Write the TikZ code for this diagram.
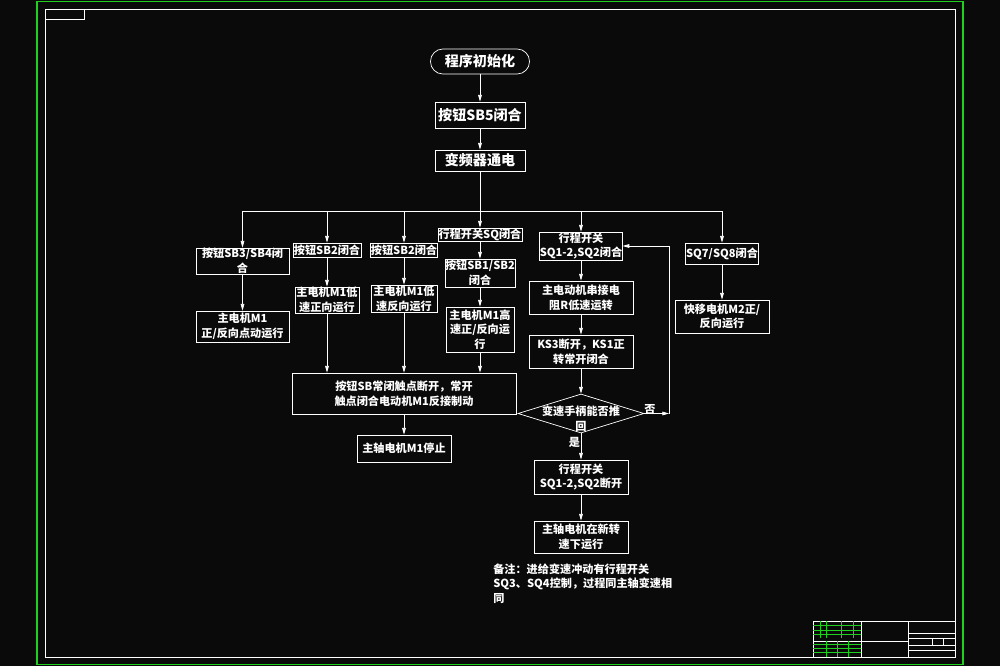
\documentclass[tikz,border=0pt]{standalone}
\usepackage{fontspec}
\newfontfamily\cjk{Noto Sans CJK SC}
\usetikzlibrary{arrows.meta, shapes.geometric}
\definecolor{cadbg}{HTML}{0A0A0A}
\definecolor{cadgreen}{HTML}{1FD01F}

\begin{document}
\begin{tikzpicture}[x=0.3mm, y=-0.3mm, line width=0.6pt,
  >={Triangle[length=2mm, width=1.1mm]},
  txt/.style={text=white, font=\cjk\bfseries\fontsize{9.5}{12.5}\selectfont, align=center, inner sep=0pt},
  bigtxt/.style={txt, font=\cjk\bfseries\fontsize{12}{14}\selectfont},
  box/.style={txt, draw=white, rectangle},
  bigbox/.style={bigtxt, draw=white, rectangle},
  link/.style={white, ->},
  wire/.style={white}]

% Background and sheet frames
\fill[cadbg] (0,0) rectangle (1000,666);
\draw[cadgreen, line width=1.1pt] (37,1.5) rectangle (963,664.5);
\draw[white, line width=0.8pt] (45,9) rectangle (955,657);
\draw[white, line width=0.8pt] (45,9) rectangle (84,19);

% ============================================================
% Top of the chart
% ============================================================
\node[bigbox, rounded corners=3.7mm, minimum width=29.7mm, minimum height=7.5mm] (init) at (480,61.5) {程序初始化};
\node[bigbox, minimum width=27mm, minimum height=7.8mm] (sbfive) at (480,115) {按钮SB5闭合};
\node[bigbox, minimum width=27mm, minimum height=6.3mm] (power) at (480,160.5) {变频器通电};

\draw[link] (init) -- (sbfive);
\draw[link] (sbfive) -- (power);

% Bus under the inverter box
\coordinate (bus) at (480,211);
\coordinate (busA) at (242.5,211);
\coordinate (busB) at (327,211);
\coordinate (busC) at (404,211);
\coordinate (busD) at (480,211);
\coordinate (busE) at (581,211);
\coordinate (busF) at (722,211);
\draw[wire] (power) -- (bus);
\draw[wire] (busA) -- (busF);

% ============================================================
% Spindle motor branches
% ============================================================
\node[box, minimum width=27.9mm, minimum height=7.8mm] (jogbtn) at (242.5,261) {按钮SB3/SB4闭\\合};
\node[box, minimum width=27.9mm, minimum height=9.3mm] (jogrun) at (242.5,326.5) {主电机M1\\正/反向点动运行};
\draw[link] (busA) -- (jogbtn);
\draw[link] (jogbtn) -- (jogrun);

\node[box, minimum width=20.4mm, minimum height=4.2mm] (fwdbtn) at (327,250) {按钮SB2闭合};
\node[box, minimum width=19.2mm, minimum height=7.8mm] (fwdrun) at (327,300) {主电机M1低\\速正向运行};
\draw[link] (busB) -- (fwdbtn);
\draw[link] (fwdbtn) -- (fwdrun);

\node[box, minimum width=20.1mm, minimum height=4.2mm] (revbtn) at (404,250) {按钮SB2闭合};
\node[box, minimum width=19.8mm, minimum height=8.1mm] (revrun) at (404,298.5) {主电机M1低\\速反向运行};
\draw[link] (busC) -- (revbtn);
\draw[link] (revbtn) -- (revrun);

\node[box, minimum width=25.2mm, minimum height=3.9mm] (sqsw) at (480,234.5) {行程开关SQ闭合};
\node[box, minimum width=20.4mm, minimum height=8.4mm] (highbtn) at (480,273) {按钮SB1/SB2\\闭合};
\node[box, minimum width=20.4mm, minimum height=13.5mm] (highrun) at (480,329.5) {主电机M1高\\速正/反向运\\行};
\draw[link] (busD) -- (sqsw);
\draw[link] (sqsw) -- (highbtn);
\draw[link] (highbtn) -- (highrun);

% Braking and stop
\node[box, minimum width=67.2mm, minimum height=12.3mm] (brake) at (404,393.5) {按钮SB常闭触点断开，常开\\触点闭合电动机M1反接制动};
\node[box, minimum width=28.2mm, minimum height=8.1mm] (stop) at (404,448.5) {主轴电机M1停止};
\draw[link] (fwdrun) -- (fwdrun |- brake.north);
\draw[link] (revrun) -- (revrun |- brake.north);
\draw[link] (highrun) -- (highrun |- brake.north);
\draw[link] (brake) -- (stop);

% ============================================================
% Speed change branch
% ============================================================
\node[box, minimum width=24.3mm, minimum height=8.4mm] (sqon) at (581,246) {行程开关\\SQ1-2,SQ2闭合};
\node[box, minimum width=31.2mm, minimum height=9.9mm] (slow) at (581,297.5) {主电动机串接电\\阻R低速运转};
\node[box, minimum width=31.2mm, minimum height=9.9mm] (kswitch) at (581,351.5) {KS3断开，KS1正\\转常开闭合};
\node[diamond, draw=white, inner sep=0pt, minimum width=37.8mm, minimum height=11.7mm] (handle) at (581,413.5) {};
\node[txt] (handletxt) at (581,419) {变速手柄能否推\\回};
\node[box, minimum width=28.2mm, minimum height=10.2mm] (sqoff) at (581,477) {行程开关\\SQ1-2,SQ2断开};
\node[box, minimum width=28.2mm, minimum height=9.6mm] (newspeed) at (581,537) {主轴电机在新转\\速下运行};

\draw[link] (busE) -- (sqon);
\draw[link] (sqon) -- (slow);
\draw[link] (slow) -- (kswitch);
\draw[link] (kswitch) -- (handle);
\draw[link] (handle) -- (sqoff);
\draw[link] (sqoff) -- (newspeed);

% "no" goes back up to the limit switch box
\coordinate (back) at (669,413.5);
\draw[link] (handle.east) -- (back);
\draw[link] (back) |- (sqon.east);
\node[txt] (no) at (650,410) {否};
\node[txt] (yes) at (574.5,442) {是};

% ============================================================
% Rapid traverse branch
% ============================================================
\node[box, minimum width=21.9mm, minimum height=6.3mm] (sqseven) at (722,253.5) {SQ7/SQ8闭合};
\node[box, minimum width=28.2mm, minimum height=9.9mm] (rapid) at (722,316.5) {快移电机M2正/\\反向运行};
\draw[link] (busF) -- (sqseven);
\draw[link] (sqseven) -- (rapid);

% Note
\node[txt, align=left, anchor=north west] (note) at (493,563) {备注：进给变速冲动有行程开关\\SQ3、SQ4控制，过程同主轴变速相\\同};

% ============================================================
% Title block
% ============================================================
\draw[white, line width=0.8pt] (813,621) rectangle (955,657);
\draw[white, line width=0.8pt] (861,621) -- (861,657) (908,621) -- (908,657);
\draw[white] (861,641) -- (908,641);
\draw[white] (813,641) -- (861,641);
\draw[white] (908,633) -- (955,633) (908,638) -- (955,638) (908,645) -- (955,645) (908,650) -- (955,650);
\draw[white] (932,638) -- (932,645) (943,638) -- (943,645);
\foreach \yy in {625,630,634,644,648,652}
  \draw[cadgreen] (813,\yy) -- (861,\yy);
\foreach \xx in {820,826,841,853}
  \draw[cadgreen] (\xx,621) -- (\xx,638);
\foreach \xx in {826,837,848}
  \draw[cadgreen] (\xx,641) -- (\xx,657);

\end{tikzpicture}
\end{document}
